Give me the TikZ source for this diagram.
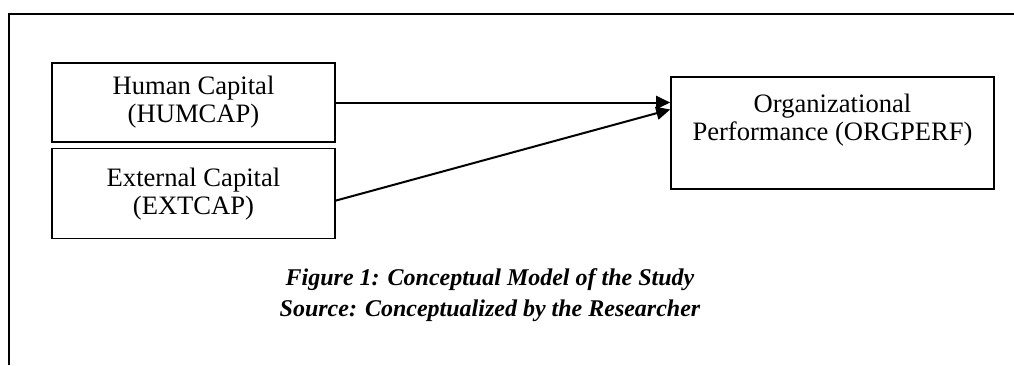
\documentclass[tikz,border=0pt]{standalone}
\usepackage{fontspec}
\setmainfont{Liberation Serif}
\usetikzlibrary{arrows.meta,positioning,calc}
\tikzset{
  capbox/.style={draw=black, line width=0.8pt, align=center, minimum width=141.5pt, font=\fontsize{13.3}{14}\selectfont},
  linkarrow/.style={-{Triangle[length=7pt,width=6.5pt]}, line width=1pt, draw=black},
}

\begin{document}
\begin{tikzpicture}[x=0.5pt, y=-0.5pt, node distance=2.5pt]
    \useasboundingbox (0,0) rectangle (1014,365);
    \draw[line width=0.6pt] (9,365) -- (9,14) -- (1014,14);
    \node[capbox, minimum height=39.5pt] (hum) at (193.5,102.5) {Human Capital\\(HUMCAP)};
    \node[capbox, below=of hum, minimum height=45pt] (ext) {External Capital\\(EXTCAP)};
    \node[capbox, minimum width=161.5pt, minimum height=56pt, text depth=16pt] (org) at (832.5,133) {Organizational\\Performance (ORGPERF)};
    \node[align=center, font=\fontsize{12}{15.5}\selectfont\bfseries\itshape] (cap) at (490,295) {Figure 1: Conceptual Model of the Study\\Source: Conceptualized by the Researcher};
    \coordinate (tip1) at (hum.east -| org.west);
    \coordinate (tip2) at ([yshift=-3.5pt]tip1);
    \draw[linkarrow] (hum.east) -- (tip1);
    \draw[linkarrow] ([yshift=-3.5pt]ext.east) -- (tip2);
\end{tikzpicture}
\end{document}
